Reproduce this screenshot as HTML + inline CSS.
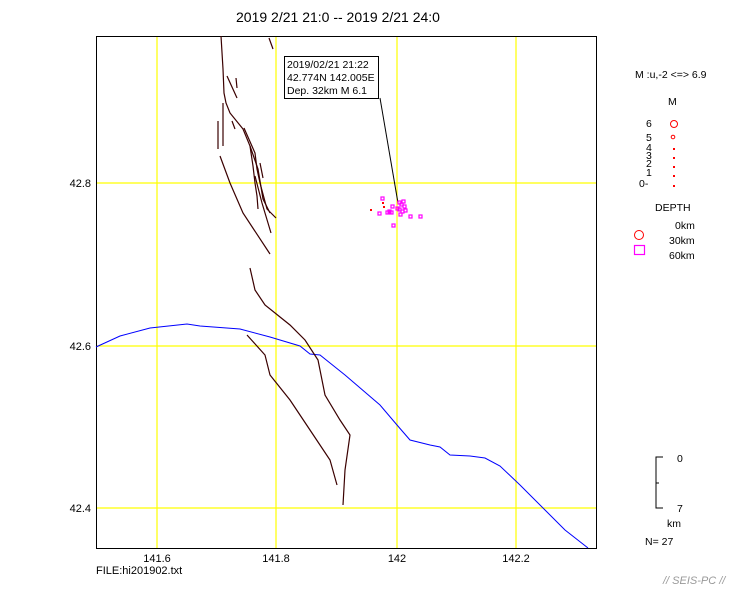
<!DOCTYPE html>
<html><head><meta charset="utf-8"><style>
body{margin:0;background:#fff;}
svg{display:block;font-family:"Liberation Sans",sans-serif;}
</style></head><body>
<svg width="751" height="593" viewBox="0 0 751 593" xmlns="http://www.w3.org/2000/svg">
<rect width="751" height="593" fill="#fff"/>
<text x="338" y="22" font-size="14" text-anchor="middle" fill="#000">2019 2/21 21:0 -- 2019 2/21 24:0</text>
<g stroke="#ffff00" stroke-width="1.2" fill="none">
<line x1="157" y1="36" x2="157" y2="548"/><line x1="276" y1="36" x2="276" y2="548"/>
<line x1="397" y1="36" x2="397" y2="548"/><line x1="516" y1="36" x2="516" y2="548"/>
<line x1="96" y1="183" x2="596" y2="183"/><line x1="96" y1="346" x2="596" y2="346"/><line x1="96" y1="508" x2="596" y2="508"/>
</g>
<rect x="96.5" y="36.5" width="500" height="512" fill="none" stroke="#000"/>
<g font-size="11" fill="#000">
<text x="91" y="187" text-anchor="end">42.8</text>
<text x="91" y="350" text-anchor="end">42.6</text>
<text x="91" y="512" text-anchor="end">42.4</text>
<text x="157" y="562" text-anchor="middle">141.6</text>
<text x="276" y="562" text-anchor="middle">141.8</text>
<text x="397" y="562" text-anchor="middle">142</text>
<text x="516" y="562" text-anchor="middle">142.2</text>
<text x="96" y="574">FILE:hi201902.txt</text>
</g>
<polyline fill="none" stroke="#0000ff" stroke-width="1" points="96,347 120,336 150,328 187,324 200,326 240,329 270,337 300,346 310,354 320,355 345,375 380,405 397,425 410,440 430,445 440,447 450,455 470,456 485,458 500,466 520,485 545,510 565,530 588,548"/>
<g fill="none" stroke="#3a0000" stroke-width="1.2">
<polyline points="221,36 223,69 224,93 226,103 230,113 243,129 250,146 253,166 255,183 257,196 258,209"/>
<polyline points="220,156 230,183 243,213 270,254"/>
<polyline points="218,121 218,149"/><polyline points="223,103 223,146"/>
<polyline points="227,76 237,98"/><polyline points="236,78 237,88"/><polyline points="232,121 235,129"/>
<polyline points="244,128 255,153 257,169 260,183 267,209 276,218"/>
<polyline points="260,163 263,178"/><polyline points="255,176 262,203 271,233"/>
<polyline points="269,38 273,49"/><polyline points="250,146 258,169 263,199 270,213"/>
<polyline points="250,268 255,290 265,305 290,325 305,340 318,360 325,395 340,420 350,435 345,470 343,505"/>
<polyline points="247,335 265,355 270,375 290,400 310,430 330,460 337,485"/>
</g>
<line x1="380" y1="98" x2="398" y2="203" stroke="#000"/>
<rect x="284.5" y="56.5" width="94" height="42" fill="#fff" stroke="#000"/>
<g font-size="10.5" fill="#000">
<text x="287" y="68">2019/02/21 21:22</text>
<text x="287" y="81">42.774N  142.005E</text>
<text x="287" y="94">Dep. 32km   M 6.1</text>
</g>
<g fill="none" stroke="#ff00ff" stroke-width="1.2">
<rect x="381" y="197" width="3" height="3"/><rect x="378" y="212" width="3" height="3"/>
<rect x="386" y="211" width="3" height="3"/><rect x="391" y="205" width="3" height="3"/>
<rect x="388" y="210" width="3" height="3"/><rect x="390" y="211" width="3" height="3"/>
<rect x="398" y="201" width="3" height="3"/><rect x="400" y="203" width="3" height="3"/>
<rect x="402" y="200" width="3" height="3"/><rect x="403" y="205" width="3" height="3"/>
<rect x="398" y="208" width="3" height="3"/><rect x="401" y="210" width="3" height="3"/>
<rect x="404" y="209" width="3" height="3"/><rect x="399" y="213" width="3" height="3"/>
<rect x="392" y="224" width="3" height="3"/><rect x="409" y="215" width="3" height="3"/>
<rect x="419" y="215" width="3" height="3"/><rect x="396" y="207" width="3" height="3"/>
</g>
<g fill="#ff0000"><rect x="370" y="209" width="2" height="2"/><rect x="382" y="202" width="2" height="2"/><rect x="383" y="206" width="2" height="2"/></g>
<g font-size="10.5" fill="#000">
<text x="635" y="78">M :u,-2 &lt;=&gt; 6.9</text>
<text x="668" y="105">M</text>
<text x="646" y="127">6</text><text x="646" y="141">5</text><text x="646" y="151">4</text><text x="646" y="159">3</text><text x="646" y="167">2</text><text x="646" y="176">1</text><text x="639" y="187">0-</text>
<text x="655" y="211">DEPTH</text>
<text x="675" y="229">0km</text><text x="669" y="244">30km</text><text x="669" y="259">60km</text>
<text x="677" y="462">0</text><text x="677" y="512">7</text>
<text x="667" y="527">km</text><text x="645" y="545">N= 27</text>
</g>
<g fill="none" stroke="#ff0000">
<circle cx="674" cy="124" r="3.5"/><circle cx="673" cy="137" r="1.8"/>
<circle cx="639" cy="235" r="4.5"/>
</g>
<g fill="#ff0000"><rect x="673" y="148" width="2" height="2"/><rect x="673" y="157" width="2" height="2"/><rect x="673" y="166" width="2" height="2"/><rect x="673" y="175" width="2" height="2"/><rect x="673" y="185" width="2" height="2"/></g>
<rect x="634.5" y="245.5" width="10" height="9" fill="none" stroke="#ff00ff" stroke-width="1.2"/>
<polyline points="663,457 656,457 656,508 663,508" fill="none" stroke="#000"/>
<line x1="656" y1="483" x2="659" y2="483" stroke="#000"/>
<text x="663" y="584" font-size="11" font-style="italic" fill="#999">// SEIS-PC //</text>
</svg>
</body></html>
